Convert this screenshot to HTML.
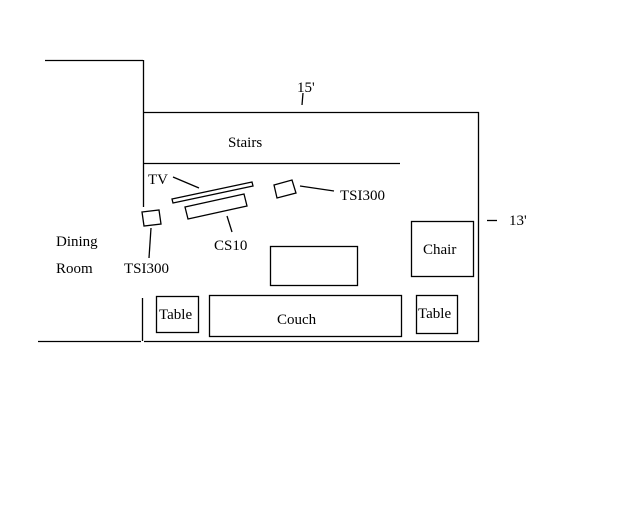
<!DOCTYPE html>
<html><head><style>
body{margin:0;background:#fff}
svg{display:block}
text{font-family:"Liberation Serif",serif;font-size:15px;fill:#000}
</style></head><body>
<svg width="640" height="512" viewBox="0 0 640 512" stroke="#000" stroke-width="1.3" fill="none">
<line x1="45" y1="60.5" x2="143" y2="60.5"/>
<line x1="143.5" y1="60" x2="143.5" y2="207"/>
<line x1="142.5" y1="298" x2="142.5" y2="341"/>
<line x1="38" y1="341.5" x2="141" y2="341.5"/>
<line x1="144" y1="341.5" x2="479" y2="341.5"/>
<line x1="143" y1="112.5" x2="479" y2="112.5"/>
<line x1="478.5" y1="112" x2="478.5" y2="342"/>
<line x1="143" y1="163.5" x2="400" y2="163.5"/>
<line x1="303" y1="93" x2="302" y2="105"/>
<line x1="487" y1="220.5" x2="497" y2="220.5"/>
<polygon points="172,199 252,182 253,186 173,203"/>
<polygon points="185,207 244,194 247,206 188,219"/>
<polygon points="274,185 292,180 296,193 277,198"/>
<polygon points="142,212 159,210 161,224 144,226"/>
<line x1="173" y1="177" x2="199" y2="188"/>
<line x1="227" y1="216" x2="232" y2="232"/>
<line x1="300" y1="186" x2="334" y2="191"/>
<line x1="151" y1="228" x2="149" y2="258"/>
<rect x="411.5" y="221.5" width="62" height="55"/>
<rect x="270.5" y="246.5" width="87" height="39"/>
<rect x="209.5" y="295.5" width="192" height="41"/>
<rect x="416.5" y="295.5" width="41" height="38"/>
<rect x="156.5" y="296.5" width="42" height="36"/>
<g stroke="none">
<text x="297" y="92">15'</text>
<text x="509" y="225">13'</text>
<text x="228" y="147">Stairs</text>
<text x="148" y="184">TV</text>
<text x="340" y="200">TSI300</text>
<text x="214" y="250">CS10</text>
<text x="124" y="273">TSI300</text>
<text x="56" y="246">Dining</text>
<text x="56" y="273">Room</text>
<text x="423" y="254">Chair</text>
<text x="277" y="324">Couch</text>
<text x="159" y="319">Table</text>
<text x="418" y="318">Table</text>
</g>
</svg>
</body></html>
